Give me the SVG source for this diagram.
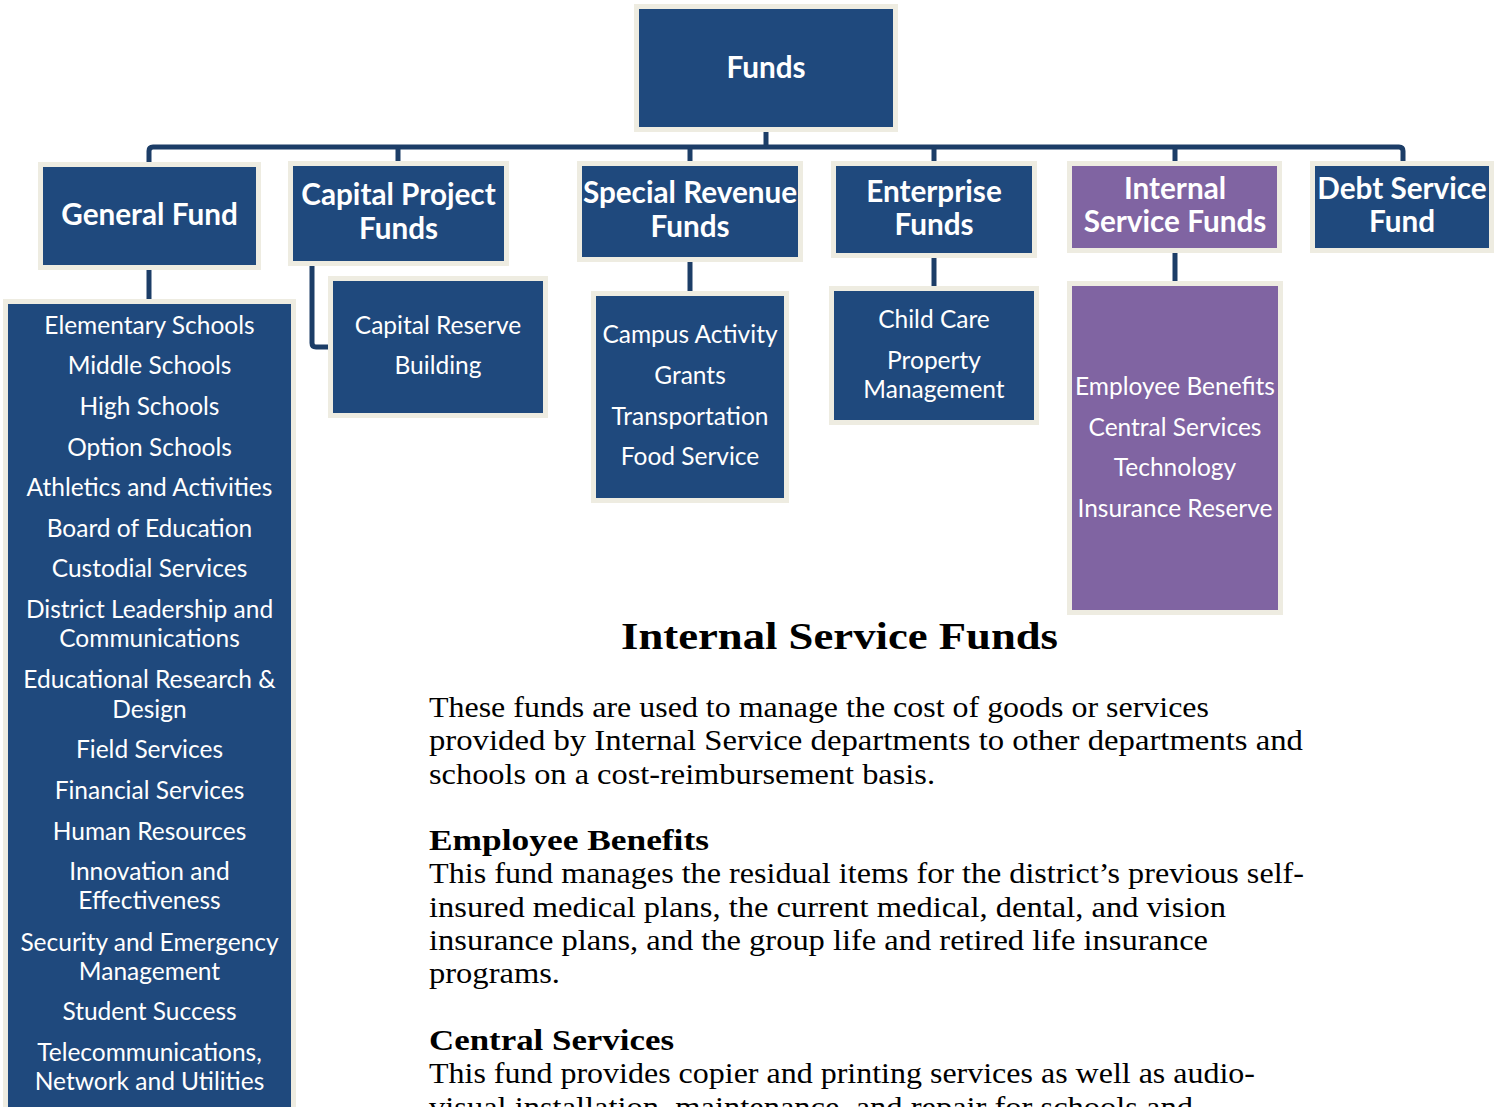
<svg xmlns="http://www.w3.org/2000/svg" width="1501" height="1107" viewBox="0 0 1501 1107">
<style>
.box{fill:#1F497D;stroke:#EEECE1;stroke-width:5}
.pbox{fill:#8064A2;stroke:#EEECE1;stroke-width:5}
.conn{fill:none;stroke:#1C3D67;stroke-width:5;stroke-linejoin:round}
.h{font-family:Lato,"Liberation Sans",sans-serif;font-weight:bold;font-size:29.7px;fill:#fff;text-anchor:middle}
.t{font-family:Lato,"Liberation Sans",sans-serif;font-size:24.5px;fill:#fff;text-anchor:middle}
.title{font-family:"Liberation Serif",serif;font-weight:bold;font-size:38px;fill:#000;text-anchor:middle}
.b{font-family:"Liberation Serif",serif;font-size:29px;fill:#000}
.bh{font-family:"Liberation Serif",serif;font-weight:bold;font-size:30px;fill:#000}
</style>
<rect width="1501" height="1107" fill="#fff"/>
<g id="connectors">
<path class="conn" d="M766,132 V147"/>
<path class="conn" d="M149,163 V151 Q149,147 153,147 H1399 Q1403,147 1403,151 V162"/>
<path class="conn" d="M398,147 V162"/>
<path class="conn" d="M690,147 V162"/>
<path class="conn" d="M934,147 V162"/>
<path class="conn" d="M1175,147 V162"/>
<path class="conn" d="M149,270 V300"/>
<path class="conn" d="M312,266 V343 Q312,347 316,347 H330"/>
<path class="conn" d="M690,262 V292"/>
<path class="conn" d="M934,258 V287"/>
<path class="conn" d="M1175,253 V282"/>
</g>
<g id="funds">
<rect class="box" x="636.5" y="6.5" width="259" height="123"/>
<text class="h" x="766" y="78">Funds</text>
</g>
<g id="general-fund">
<rect class="box" x="40.5" y="164.5" width="218" height="103"/>
<text class="h" x="149.5" y="225">General Fund</text>
</g>
<g id="capital-project-funds">
<rect class="box" x="290.5" y="163.5" width="216" height="100"/>
<text class="h" x="398.5" y="205">Capital Project</text>
<text class="h" x="398.5" y="239">Funds</text>
</g>
<g id="special-revenue-funds">
<rect class="box" x="579.5" y="163.5" width="221" height="96"/>
<text class="h" x="690" y="203">Special Revenue</text>
<text class="h" x="690" y="237">Funds</text>
</g>
<g id="enterprise-funds">
<rect class="box" x="833.5" y="163.5" width="201" height="92"/>
<text class="h" x="934" y="202">Enterprise</text>
<text class="h" x="934" y="235">Funds</text>
</g>
<g id="internal-service-funds">
<rect class="pbox" x="1069.5" y="163.5" width="210" height="87"/>
<text class="h" x="1175" y="199">Internal</text>
<text class="h" x="1175" y="232">Service Funds</text>
</g>
<g id="debt-service-fund">
<rect class="box" x="1312.5" y="163.5" width="179" height="87"/>
<text class="h" x="1402" y="199">Debt Service</text>
<text class="h" x="1402" y="232">Fund</text>
</g>
<g id="general-fund-list">
<rect class="box" x="5.5" y="301.5" width="288" height="810"/>
<text class="t" x="149.5" y="334">Elementary Schools</text>
<text class="t" x="149.5" y="374">Middle Schools</text>
<text class="t" x="149.5" y="415">High Schools</text>
<text class="t" x="149.5" y="456">Option Schools</text>
<text class="t" x="149.5" y="496">Athletics and Activities</text>
<text class="t" x="149.5" y="537">Board of Education</text>
<text class="t" x="149.5" y="577">Custodial Services</text>
<text class="t" x="149.5" y="618">District Leadership and</text>
<text class="t" x="149.5" y="647">Communications</text>
<text class="t" x="149.5" y="688">Educational Research &amp;</text>
<text class="t" x="149.5" y="718">Design</text>
<text class="t" x="149.5" y="758">Field Services</text>
<text class="t" x="149.5" y="799">Financial Services</text>
<text class="t" x="149.5" y="840">Human Resources</text>
<text class="t" x="149.5" y="880">Innovation and</text>
<text class="t" x="149.5" y="909">Effectiveness</text>
<text class="t" x="149.5" y="951">Security and Emergency</text>
<text class="t" x="149.5" y="980">Management</text>
<text class="t" x="149.5" y="1020">Student Success</text>
<text class="t" x="149.5" y="1061">Telecommunications,</text>
<text class="t" x="149.5" y="1090">Network and Utilities</text>
</g>
<g id="capital-reserve">
<rect class="box" x="330.5" y="278.5" width="215" height="137"/>
<text class="t" x="438" y="334">Capital Reserve</text>
<text class="t" x="438" y="374">Building</text>
</g>
<g id="special-revenue-list">
<rect class="box" x="593.5" y="293.5" width="193" height="207"/>
<text class="t" x="690" y="343">Campus Activity</text>
<text class="t" x="690" y="384">Grants</text>
<text class="t" x="690" y="425">Transportation</text>
<text class="t" x="690" y="465">Food Service</text>
</g>
<g id="enterprise-list">
<rect class="box" x="831.5" y="288.5" width="205" height="134"/>
<text class="t" x="934" y="328">Child Care</text>
<text class="t" x="934" y="369">Property</text>
<text class="t" x="934" y="398">Management</text>
</g>
<g id="internal-service-list">
<rect class="pbox" x="1069.5" y="283.5" width="211" height="329"/>
<text class="t" x="1175" y="395">Employee Benefits</text>
<text class="t" x="1175" y="436">Central Services</text>
<text class="t" x="1175" y="476">Technology</text>
<text class="t" x="1175" y="517">Insurance Reserve</text>
</g>
<g id="description">
<text class="title" x="839.5" y="649" textLength="437" lengthAdjust="spacingAndGlyphs">Internal Service Funds</text>
<text class="b" x="429" y="717" textLength="780" lengthAdjust="spacingAndGlyphs">These funds are used to manage the cost of goods or services</text>
<text class="b" x="429" y="750" textLength="874" lengthAdjust="spacingAndGlyphs">provided by Internal Service departments to other departments and</text>
<text class="b" x="429" y="784" textLength="506" lengthAdjust="spacingAndGlyphs">schools on a cost-reimbursement basis.</text>
<text class="bh" x="429" y="850" textLength="280" lengthAdjust="spacingAndGlyphs">Employee Benefits</text>
<text class="b" x="429" y="883" textLength="875" lengthAdjust="spacingAndGlyphs">This fund manages the residual items for the district’s previous self-</text>
<text class="b" x="429" y="917" textLength="797" lengthAdjust="spacingAndGlyphs">insured medical plans, the current medical, dental, and vision</text>
<text class="b" x="429" y="950" textLength="779" lengthAdjust="spacingAndGlyphs">insurance plans, and the group life and retired life insurance</text>
<text class="b" x="429" y="983" textLength="131" lengthAdjust="spacingAndGlyphs">programs.</text>
<text class="bh" x="429" y="1050" textLength="245" lengthAdjust="spacingAndGlyphs">Central Services</text>
<text class="b" x="429" y="1083" textLength="826" lengthAdjust="spacingAndGlyphs">This fund provides copier and printing services as well as audio-</text>
<text class="b" x="429" y="1117" textLength="764" lengthAdjust="spacingAndGlyphs">visual installation, maintenance, and repair for schools and</text>
</g>
</svg>
